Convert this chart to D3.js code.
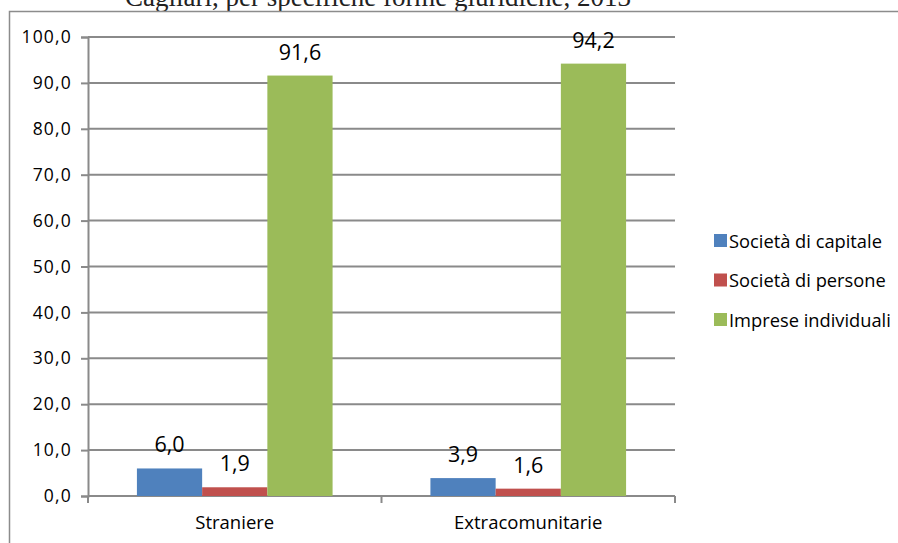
<!DOCTYPE html>
<html>
<head>
<meta charset="utf-8">
<script src="https://cdn.jsdelivr.net/npm/d3@7"></script>
<style>
  html, body { margin: 0; padding: 0; background: #fff; overflow: hidden; }
  svg { display: block; }
</style>
</head>
<body>
<svg id="chart" width="898" height="543"></svg>
<script>
// Imprese straniere ed extracomunitarie per forma giuridica (%)
const categories = ["Straniere", "Extracomunitarie"];
const seriesNames = ["Società di capitale", "Società di persone", "Imprese individuali"];
const capitale = [6.0, 3.9];
const persone = [1.9, 1.6];
const individuali = [91.6, 94.2];
const yTicks = [0, 10, 20, 30, 40, 50, 60, 70, 80, 90, 100];
const colors = ["#4F81BD", "#C0504D", "#9BBB59"];
const titleText = "Cagliari, per specifiche forme giuridiche, 2013";

const seriesValues = [capitale, persone, individuali];
const svg = d3.select("#chart");
const fmt = v => v.toFixed(1).replace(".", ",");
const font = "'Open Sans', 'Noto Sans', sans-serif";
const axisColor = "#8a8a8a";

// title line (partly above the chart frame)
svg.append("text")
  .attr("x", 125).attr("y", 6)
  .attr("font-family", "'Liberation Serif', 'DejaVu Serif', serif")
  .attr("font-size", 27)
  .attr("fill", "#222")
  .text(titleText);

// chart frame: left and top edges
svg.append("path")
  .attr("d", "M9.5,560V11.5H920")
  .attr("fill", "none").attr("stroke", "#8c8c8c").attr("stroke-width", 1.5);

const plot = { left: 88, right: 675, top: 37, bottom: 496 };

const x0 = d3.scaleBand().domain(categories).range([plot.left, plot.right]);
const x1 = d3.scaleBand().domain(seriesNames).range([0, x0.bandwidth()]).paddingOuter(0.75).paddingInner(0);
const y = d3.scaleLinear().domain([0, 100]).range([plot.bottom, plot.top]);

// gridlines
svg.append("g")
  .selectAll("line")
  .data(yTicks.filter(t => t > 0))
  .join("line")
  .attr("x1", plot.left).attr("x2", plot.right)
  .attr("y1", d => y(d)).attr("y2", d => y(d))
  .attr("stroke", axisColor).attr("stroke-width", 2);

// y axis
const yAxis = d3.axisLeft(y).tickValues(yTicks).tickSize(7).tickPadding(9).tickFormat(fmt);
const gy = svg.append("g").attr("transform", `translate(${plot.left},0)`).call(yAxis);
gy.select(".domain").attr("stroke", axisColor).attr("stroke-width", 2);
gy.selectAll(".tick line").attr("stroke", axisColor).attr("stroke-width", 2);
gy.selectAll(".tick text")
  .attr("font-family", font).attr("font-size", 17.5).attr("letter-spacing", 1.2).attr("fill", "#000");

// x axis with ticks at category boundaries
const gx = svg.append("g").attr("transform", `translate(0,${plot.bottom})`);
gx.append("line").attr("x1", plot.left).attr("x2", plot.right)
  .attr("stroke", axisColor).attr("stroke-width", 2);
const boundaries = categories.map(c => x0(c)).concat([x0(categories[categories.length - 1]) + x0.bandwidth()]);
gx.selectAll(".bt").data(boundaries).join("line")
  .attr("x1", d => d).attr("x2", d => d).attr("y1", 0).attr("y2", 7)
  .attr("stroke", axisColor).attr("stroke-width", 2);
gx.selectAll(".cl").data(categories).join("text")
  .attr("x", d => x0(d) + x0.bandwidth() / 2)
  .attr("y", 33)
  .attr("text-anchor", "middle")
  .attr("font-family", font).attr("font-size", 18.5).attr("fill", "#000")
  .text(d => d);

// bars
const groups = svg.append("g").selectAll("g")
  .data(categories)
  .join("g")
  .attr("transform", d => `translate(${x0(d)},0)`);

const cells = (c, ci) => seriesNames.map((s, si) => ({ s, si, v: seriesValues[si][ci] }));

groups.selectAll("rect")
  .data(cells)
  .join("rect")
  .attr("x", d => x1(d.s))
  .attr("width", x1.bandwidth())
  .attr("y", d => y(d.v))
  .attr("height", d => y(0) - y(d.v))
  .attr("fill", d => colors[d.si]);

// value labels
groups.selectAll("text")
  .data(cells)
  .join("text")
  .attr("x", d => x1(d.s) + x1.bandwidth() / 2)
  .attr("y", d => y(d.v) - 16)
  .attr("text-anchor", "middle")
  .attr("font-family", font).attr("font-size", 21.5).attr("fill", "#000")
  .text(d => fmt(d.v));

// legend
const legend = svg.append("g").attr("transform", "translate(714,241)");
const li = legend.selectAll("g").data(seriesNames).join("g")
  .attr("transform", (d, i) => `translate(0,${i * 39.5})`);
li.append("rect").attr("x", 0).attr("y", -7).attr("width", 13).attr("height", 13)
  .attr("fill", (d, i) => colors[i]);
li.append("text").attr("x", 15).attr("y", 6.5)
  .attr("font-family", font).attr("font-size", 18.3).attr("fill", "#000")
  .text(d => d);
</script>
</body>
</html>
